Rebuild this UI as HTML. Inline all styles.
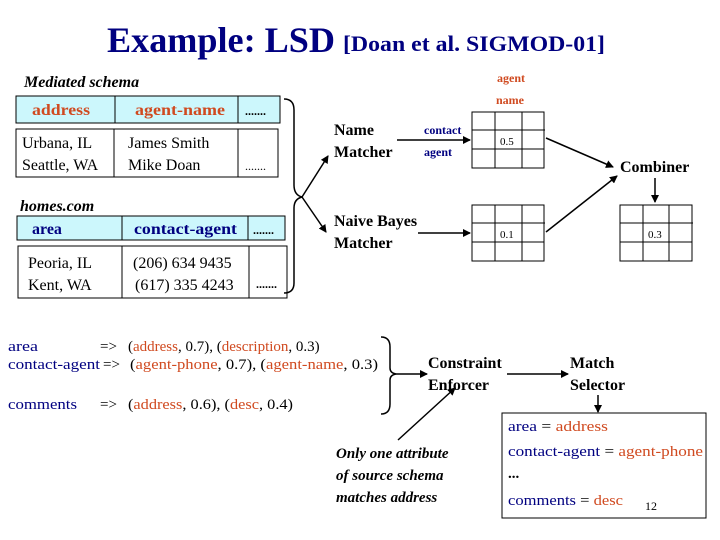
<!DOCTYPE html>
<html><head><meta charset="utf-8"><style>
html,body{margin:0;padding:0;background:#fff;}
svg{display:block;}
text{font-family:"Liberation Serif",serif;}
.b{font-weight:bold;}
.o{fill:#d04a20;}
.n{fill:#000080;}
</style></head><body>
<svg width="720" height="540" viewBox="0 0 720 540" xmlns="http://www.w3.org/2000/svg">
<defs><marker id="a" markerWidth="8" markerHeight="8" refX="7" refY="4" orient="auto" markerUnits="userSpaceOnUse"><path d="M0,0 L8,4 L0,8 z" fill="#000"/></marker></defs>
<text x="107" y="52" class="b n" font-size="36" textLength="228" lengthAdjust="spacingAndGlyphs">Example: LSD</text>
<text x="343" y="51" class="b n" font-size="22" textLength="262" lengthAdjust="spacingAndGlyphs">[Doan et al. SIGMOD-01]</text>

<text x="24" y="87" class="b" font-style="italic" font-size="16">Mediated schema</text>
<g stroke="#000" stroke-width="1" fill="none">
<rect x="16" y="96" width="264" height="27" fill="#ccf7fc"/>
<line x1="115" y1="96" x2="115" y2="123"/><line x1="238" y1="96" x2="238" y2="123"/>
<rect x="16" y="129" width="262" height="48"/>
<line x1="114" y1="129" x2="114" y2="177"/><line x1="238" y1="129" x2="238" y2="177"/>
<rect x="17" y="216" width="268" height="24" fill="#ccf7fc"/>
<line x1="122" y1="216" x2="122" y2="240"/><line x1="248" y1="216" x2="248" y2="240"/>
<rect x="18" y="246" width="269" height="52"/>
<line x1="122" y1="246" x2="122" y2="298"/><line x1="249" y1="246" x2="249" y2="298"/>
</g>
<text x="32" y="115" class="b o" font-size="16" textLength="58" lengthAdjust="spacingAndGlyphs">address</text>
<text x="135" y="115" class="b o" font-size="16" textLength="90" lengthAdjust="spacingAndGlyphs">agent-name</text>
<text x="245" y="115" class="b" font-size="12">.......</text>
<text x="22" y="148" font-size="16">Urbana, IL</text>
<text x="22" y="170" font-size="16">Seattle, WA</text>
<text x="128" y="148" font-size="16">James Smith</text>
<text x="128" y="170" font-size="16">Mike Doan</text>
<text x="245" y="170" font-size="12">.......</text>
<text x="20" y="211" class="b" font-style="italic" font-size="16">homes.com</text>
<text x="32" y="234" class="b n" font-size="16">area</text>
<text x="134" y="234" class="b n" font-size="16" textLength="103" lengthAdjust="spacingAndGlyphs">contact-agent</text>
<text x="253" y="234" class="b" font-size="12">.......</text>
<text x="28" y="268" font-size="16">Peoria, IL</text>
<text x="28" y="290" font-size="16">Kent, WA</text>
<text x="133" y="268" font-size="16">(206) 634 9435</text>
<text x="135" y="290" font-size="16">(617) 335 4243</text>
<text x="256" y="288" class="b" font-size="12">.......</text>

<g stroke="#000" stroke-width="1.5" fill="none">
<path d="M284,99 Q294,99 294,110 L294,185 Q294,195 302,197 Q294,199 294,208 L294,283 Q294,293 284,293"/>
<path d="M302,197 L328,156" marker-end="url(#a)"/>
<path d="M302,197 L326,232" marker-end="url(#a)"/>
<path d="M397,140 L470,140" marker-end="url(#a)"/>
<path d="M418,233 L470,233" marker-end="url(#a)"/>
<path d="M546,138 L613,167" marker-end="url(#a)"/>
<path d="M546,232 L617,176" marker-end="url(#a)"/>
<path d="M655,178 L655,202" marker-end="url(#a)"/>
<path d="M381,337 Q390,337 390,347 L390,368 Q390,373 396,374 Q390,375 390,380 L390,404 Q390,414 381,414"/>
<path d="M396,374 L427,374" marker-end="url(#a)"/>
<path d="M507,374 L568,374" marker-end="url(#a)"/>
<path d="M598,395 L598,412" marker-end="url(#a)"/>
<path d="M398,440 L455,388" marker-end="url(#a)"/>
</g>
<g stroke="#000" stroke-width="1" fill="none">
<rect x="472" y="112" width="72" height="56"/>
<line x1="495" y1="112" x2="495" y2="168"/><line x1="522" y1="112" x2="522" y2="168"/>
<line x1="472" y1="130" x2="545" y2="130"/><line x1="472" y1="149" x2="544" y2="149"/>
<rect x="472" y="205" width="72" height="56"/>
<line x1="495" y1="205" x2="495" y2="261"/><line x1="522" y1="205" x2="522" y2="261"/>
<line x1="472" y1="223" x2="545" y2="223"/><line x1="472" y1="242" x2="544" y2="242"/>
<rect x="620" y="205" width="72" height="56"/>
<line x1="643" y1="205" x2="643" y2="261"/><line x1="669" y1="205" x2="669" y2="261"/>
<line x1="620" y1="223" x2="693" y2="223"/><line x1="620" y1="242" x2="692" y2="242"/>
<rect x="502" y="413" width="204" height="105"/>
</g>
<text x="497" y="82" class="b o" font-size="12">agent</text>
<text x="496" y="104" class="b o" font-size="12">name</text>
<text x="424" y="134" class="b n" font-size="12">contact</text>
<text x="424" y="156" class="b n" font-size="12">agent</text>
<text x="334" y="135" class="b" font-size="16">Name</text>
<text x="334" y="157" class="b" font-size="16">Matcher</text>
<text x="334" y="226" class="b" font-size="16">Naive Bayes</text>
<text x="334" y="248" class="b" font-size="16">Matcher</text>
<text x="620" y="172" class="b" font-size="16">Combiner</text>
<text x="500" y="145" font-size="11">0.5</text>
<text x="500" y="238" font-size="11">0.1</text>
<text x="648" y="238" font-size="11">0.3</text>

<g font-size="15">
<text x="8" y="351" class="n" textLength="30" lengthAdjust="spacingAndGlyphs">area</text>
<text x="8" y="369" class="n" textLength="92" lengthAdjust="spacingAndGlyphs">contact-agent</text>
<text x="8" y="409" class="n" textLength="69" lengthAdjust="spacingAndGlyphs">comments</text>
<text x="100" y="351">=&gt;</text>
<text x="103" y="369">=&gt;</text>
<text x="100" y="409">=&gt;</text>
<text x="128" y="351">(<tspan class="o">address</tspan>, 0.7), (<tspan class="o">description</tspan>, 0.3)</text>
<text x="130" y="369" textLength="248" lengthAdjust="spacingAndGlyphs">(<tspan class="o">agent-phone</tspan>, 0.7), (<tspan class="o">agent-name</tspan>, 0.3)</text>
<text x="128" y="409" textLength="165" lengthAdjust="spacingAndGlyphs">(<tspan class="o">address</tspan>, 0.6), (<tspan class="o">desc</tspan>, 0.4)</text>
</g>
<text x="428" y="368" class="b" font-size="16">Constraint</text>
<text x="428" y="390" class="b" font-size="16">Enforcer</text>
<text x="570" y="368" class="b" font-size="16">Match</text>
<text x="570" y="390" class="b" font-size="16">Selector</text>
<g class="b" font-style="italic" font-size="15">
<text x="336" y="458">Only one attribute</text>
<text x="336" y="480">of source schema</text>
<text x="336" y="502">matches address</text>
</g>
<g font-size="15">
<text x="508" y="431" textLength="100" lengthAdjust="spacingAndGlyphs"><tspan class="n">area</tspan> = <tspan class="o">address</tspan></text>
<text x="508" y="456" textLength="195" lengthAdjust="spacingAndGlyphs"><tspan class="n">contact-agent</tspan> = <tspan class="o">agent-phone</tspan></text>
<text x="508" y="478" class="b">...</text>
<text x="508" y="505" textLength="115" lengthAdjust="spacingAndGlyphs"><tspan class="n">comments</tspan> = <tspan class="o">desc</tspan></text>
</g>
<text x="645" y="510" font-size="12">12</text>
</svg>
</body></html>
